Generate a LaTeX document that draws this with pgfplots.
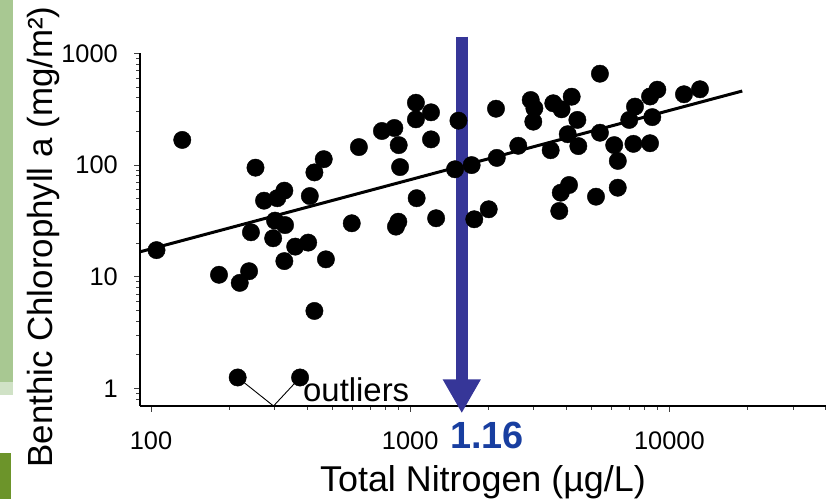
\documentclass[border=0pt]{standalone}
\usepackage{fontspec}
\setmainfont{Liberation Sans}
\usepackage{pgfplots}
\pgfplotsset{compat=1.18}
\usetikzlibrary{arrows.meta}
\definecolor{arrowblue}{RGB}{54,54,152}
\definecolor{textblue}{RGB}{24,62,160}
\definecolor{lgreen}{RGB}{168,200,146}
\definecolor{pgreen}{RGB}{208,226,198}
\definecolor{ogreen}{RGB}{108,148,42}
\begin{document}
\begin{tikzpicture}[x=1bp,y=1bp]
\useasboundingbox (-140,-93) rectangle (690,406);
\fill[lgreen] (-140,406) rectangle (-127,24);
\fill[pgreen] (-140,24) rectangle (-127,11);
\fill[ogreen] (-140,-47) rectangle (-129,-93);
\begin{axis}[
  at={(0,0)}, anchor=south west, scale only axis,
  width=686bp, height=352.5bp,
  xmode=log, ymode=log,
  xmin=90.7, xmax=40200, ymin=0.694, ymax=1000,
  axis lines=left, axis line style={-, line width=1.2bp, black},
  clip=false,
  tick align=outside,
  major tick length=6bp, minor tick length=4bp,
  tick style={black!75, line width=0.9bp},
  xtick={100,1000,10000}, xticklabels={100,1000,10000},
  ytick={1,10,100,1000}, yticklabels={1,10,100,1000},
  minor xtick={200,300,400,500,600,700,800,900,2000,3000,4000,5000,6000,7000,8000,9000,20000,30000,40000},
  minor ytick={0.8,0.9,2,3,4,5,6,7,8,9,20,30,40,50,60,70,80,90,200,300,400,500,600,700,800,900},
  tick label style={font=\fontsize{25.5}{29}\selectfont},
  xticklabel style={anchor=north, inner sep=0pt, yshift=-20bp},
  yticklabel style={anchor=east, inner sep=0pt, xshift=-16bp},
]
% outlier pointer lines
\addplot[black, line width=0.9bp] coordinates {(216,1.25) (297,0.694) (376,1.25)};
% regression line
\addplot[black, line width=3bp] coordinates {(90.7,16.7) (19100,461)};
% data
\addplot[only marks, mark=*, mark size=8.7bp, mark options={fill=black, draw=black}] table {
x y
105 17.3
132 168
183 10.4
220 8.8
239 11.2
216 1.25
376 1.25
243 25
253 94.8
273 48
307 50.5
327 59
410 52.8
427 86
464 113
301 31.8
329 29
296 22.1
360 18.6
404 20.2
327 13.8
473 14.3
427 4.93
595 30.1
634 145
778 202
869 215
903 151
914 96
900 31.1
881 28.1
1052 362
1052 257
1203 297
1203 170
1059 50.5
1259 33.4
1535 250
1489 91.7
1726 100
1767 32.7
2009 40.2
2143 320
2158 116
2612 149
2917 383
3013 323
2985 245
3565 358
3838 316
4198 410
4415 254
4053 189
4453 148
3483 136
5395 659
5395 195
6124 151
6324 109
7264 155
8420 157
7367 334
8590 269
8420 412
8984 474
7000 254
11380 431
13120 478
4100 66.3
3810 56.6
3760 38.8
5210 52.1
6320 62.7
};
\draw[arrowblue, line width=11.7bp, -{Triangle[width=35.7bp,length=34bp]}] (axis cs:1581,1415) -- (axis cs:1581,0.597);
\end{axis}
\node[anchor=base west, inner sep=0pt, font=\fontsize{33}{36}\selectfont] at (163,4) {outliers};
\node[anchor=base, inner sep=0pt, text=textblue, font=\bfseries\fontsize{38}{40}\selectfont] at (347,-42.3) {1.16};
\node[anchor=base, inner sep=0pt, font=\fontsize{36}{40}\selectfont] at (343,-85.7) {Total Nitrogen (µg/L)};
\node[anchor=base, inner sep=0pt, rotate=90, font=\fontsize{35}{40}\selectfont] at (-87,169) {Benthic Chlorophyll a (mg/m²)};
\end{tikzpicture}
\end{document}
